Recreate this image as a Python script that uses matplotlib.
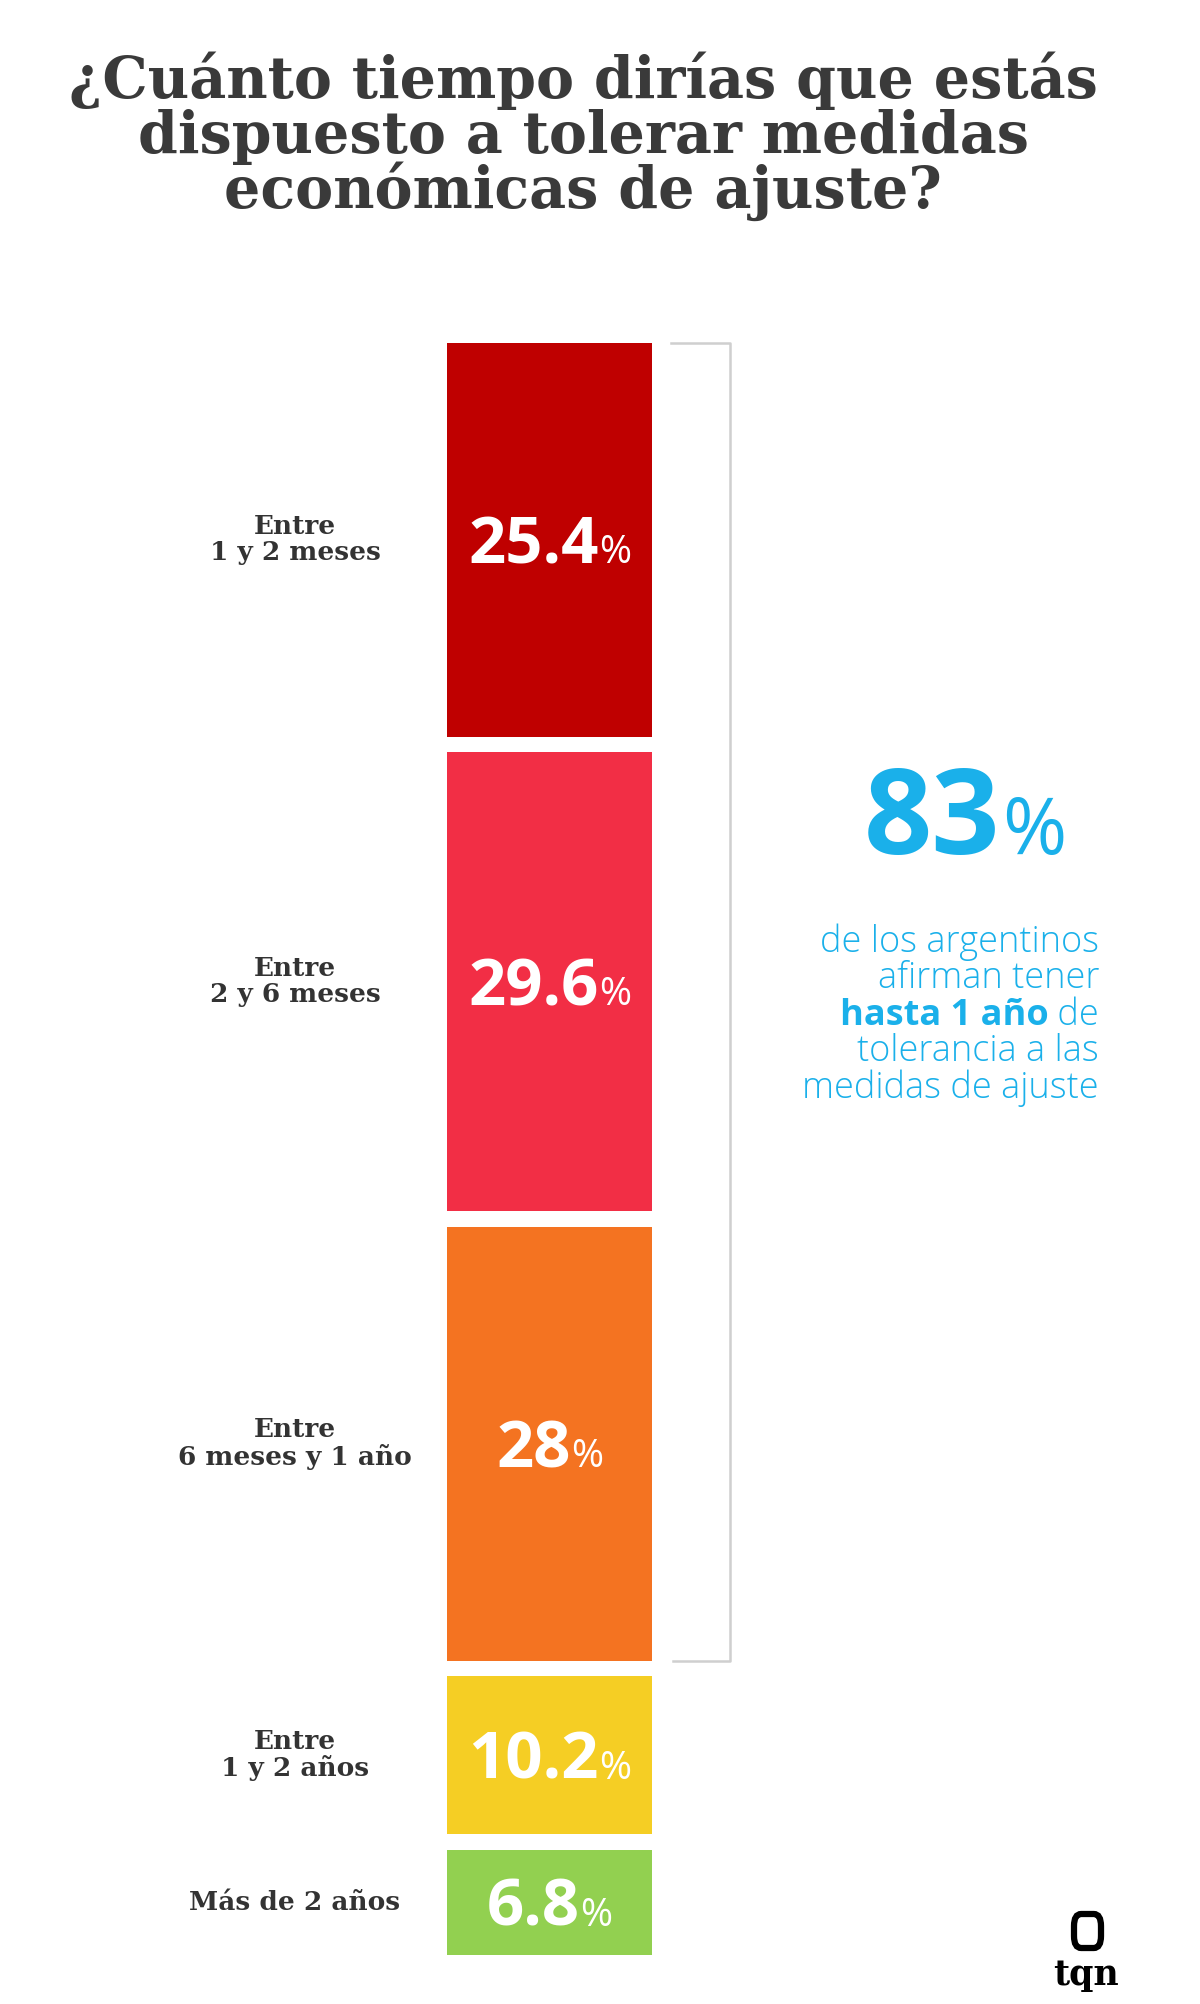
import numpy as np
import matplotlib
matplotlib.use('Agg')
import matplotlib.pyplot as plt
import matplotlib.transforms as mtransforms
from matplotlib.patches import FancyBboxPatch

# data
labels = ['Entre\n1 y 2 meses', 'Entre\n2 y 6 meses', 'Entre\n6 meses y 1 año',
          'Entre\n1 y 2 años', 'Más de 2 años']
values = [25.4, 29.6, 28, 10.2, 6.8]
value_text = ['25.4', '29.6', '28', '10.2', '6.8']
colors = ['#bf0000', '#f22e45', '#f47321', '#f5ce24', '#92d050']
highlight = '83'
desc_lines = ['de los argentinos', 'afirman tener', None, 'tolerancia a las', 'medidas de ajuste']
desc_bold = 'hasta 1 año'
desc_rest = ' de'
title_lines = ['¿Cuánto tiempo dirías que estás', 'dispuesto a tolerar medidas',
               'económicas de ajuste?']

W, H = 1200, 2004
fig = plt.figure(figsize=(W / 100, H / 100), dpi=100)
fig.patch.set_facecolor('white')

# bar area in pixels (from the top): 343 .. 1955, x 447 .. 652
ax = fig.add_axes([447 / W, (H - 1955) / H, 205 / W, (1955 - 343) / H])
gap = 1.0
bottoms = np.cumsum([0] + values[:-1]) + gap * np.arange(len(values))
ax.bar(0, values, bottom=bottoms, width=1.0, color=colors, linewidth=0)
ax.set_xlim(-0.5, 0.5)
ax.set_ylim(bottoms[-1] + values[-1], 0)
ax.axis('off')

blend = mtransforms.blended_transform_factory(fig.transFigure, ax.transData)

# bracket around the first three bars
y_end = bottoms[2] + values[2]
ax.plot([671 / W, 730 / W, 730 / W, 673 / W], [0, 0, y_end, y_end],
        color='#cfcfcf', lw=1.8, transform=blend, clip_on=False)

# category labels
for lab, b, v in zip(labels, bottoms, values):
    ax.text(295 / W, b + v / 2, lab, transform=blend, ha='center', va='center',
            family='DejaVu Serif', fontweight='bold', fontsize=19, color='#333333',
            linespacing=1.05, clip_on=False)

fig.canvas.draw()
renderer = fig.canvas.get_renderer()
ident = mtransforms.IdentityTransform()


def text_width(t):
    return t.get_window_extent(renderer).width


def big_pct(xc, yc, num, size, psize, color, weight='bold'):
    # number + smaller % centred at (xc, yc) in display pixels
    t1 = fig.text(0, 0, num, transform=ident, fontsize=size, fontweight=weight,
                  family='Open Sans', color=color, va='baseline', ha='left')
    t2 = fig.text(0, 0, '%', transform=ident, fontsize=psize, fontweight='normal',
                  family='Open Sans', color=color, va='baseline', ha='left')
    w1, w2 = text_width(t1), text_width(t2)
    x0 = xc - (w1 + w2) / 2
    base = yc - 0.72 * size * 100 / 72 / 2
    t1.set_position((x0, base))
    t2.set_position((x0 + w1, base))


for txt, b, v in zip(value_text, bottoms, values):
    xc, yc = ax.transData.transform((0, b + v / 2))
    big_pct(xc, yc, txt, 47, 28, 'white')

# 83% highlight
blue = '#1ab0ea'
t83 = fig.text(864, H - 854, highlight, transform=ident, fontsize=86, fontweight='bold',
               family='Open Sans', color=blue, va='baseline', ha='left')
fig.text(864 + text_width(t83) + 2, H - 854, '%', transform=ident, fontsize=56,
         family='Open Sans', color=blue, va='baseline', ha='left')

right = 1099
fs = 26
for i, line in enumerate(desc_lines):
    y = H - (952 + i * 36.4)
    if line is not None:
        fig.text(right, y, line, transform=ident, fontsize=fs, fontweight='light',
                 family='Open Sans', color=blue, ha='right', va='baseline')
    else:
        tr = fig.text(right, y, desc_rest, transform=ident, fontsize=fs,
                      fontweight='light', family='Open Sans', color=blue,
                      ha='right', va='baseline')
        fig.text(right - text_width(tr), y, desc_bold, transform=ident, fontsize=fs,
                 fontweight='bold', family='Open Sans', color=blue,
                 ha='right', va='baseline')

# title
for i, line in enumerate(title_lines):
    fig.text(583 / W, 1 - (98 + i * 55) / H, line, ha='center', va='baseline',
             family='DejaVu Serif', fontweight='bold', fontsize=41, color='#3a3a3a')

# tqn logo
fig.patches.append(FancyBboxPatch((1074 / W, 1 - 1948 / H), 27 / W, 34 / H,
                                  boxstyle='round,pad=0,rounding_size=0.006',
                                  transform=fig.transFigure, fill=False,
                                  edgecolor='black', lw=4.5))
fig.text(1086 / W, 1 - 1985 / H, 'tqn', ha='center', va='baseline',
         family='DejaVu Serif', fontweight='bold', fontsize=25, color='black')

fig.savefig('out.png', dpi=100, facecolor='white')
